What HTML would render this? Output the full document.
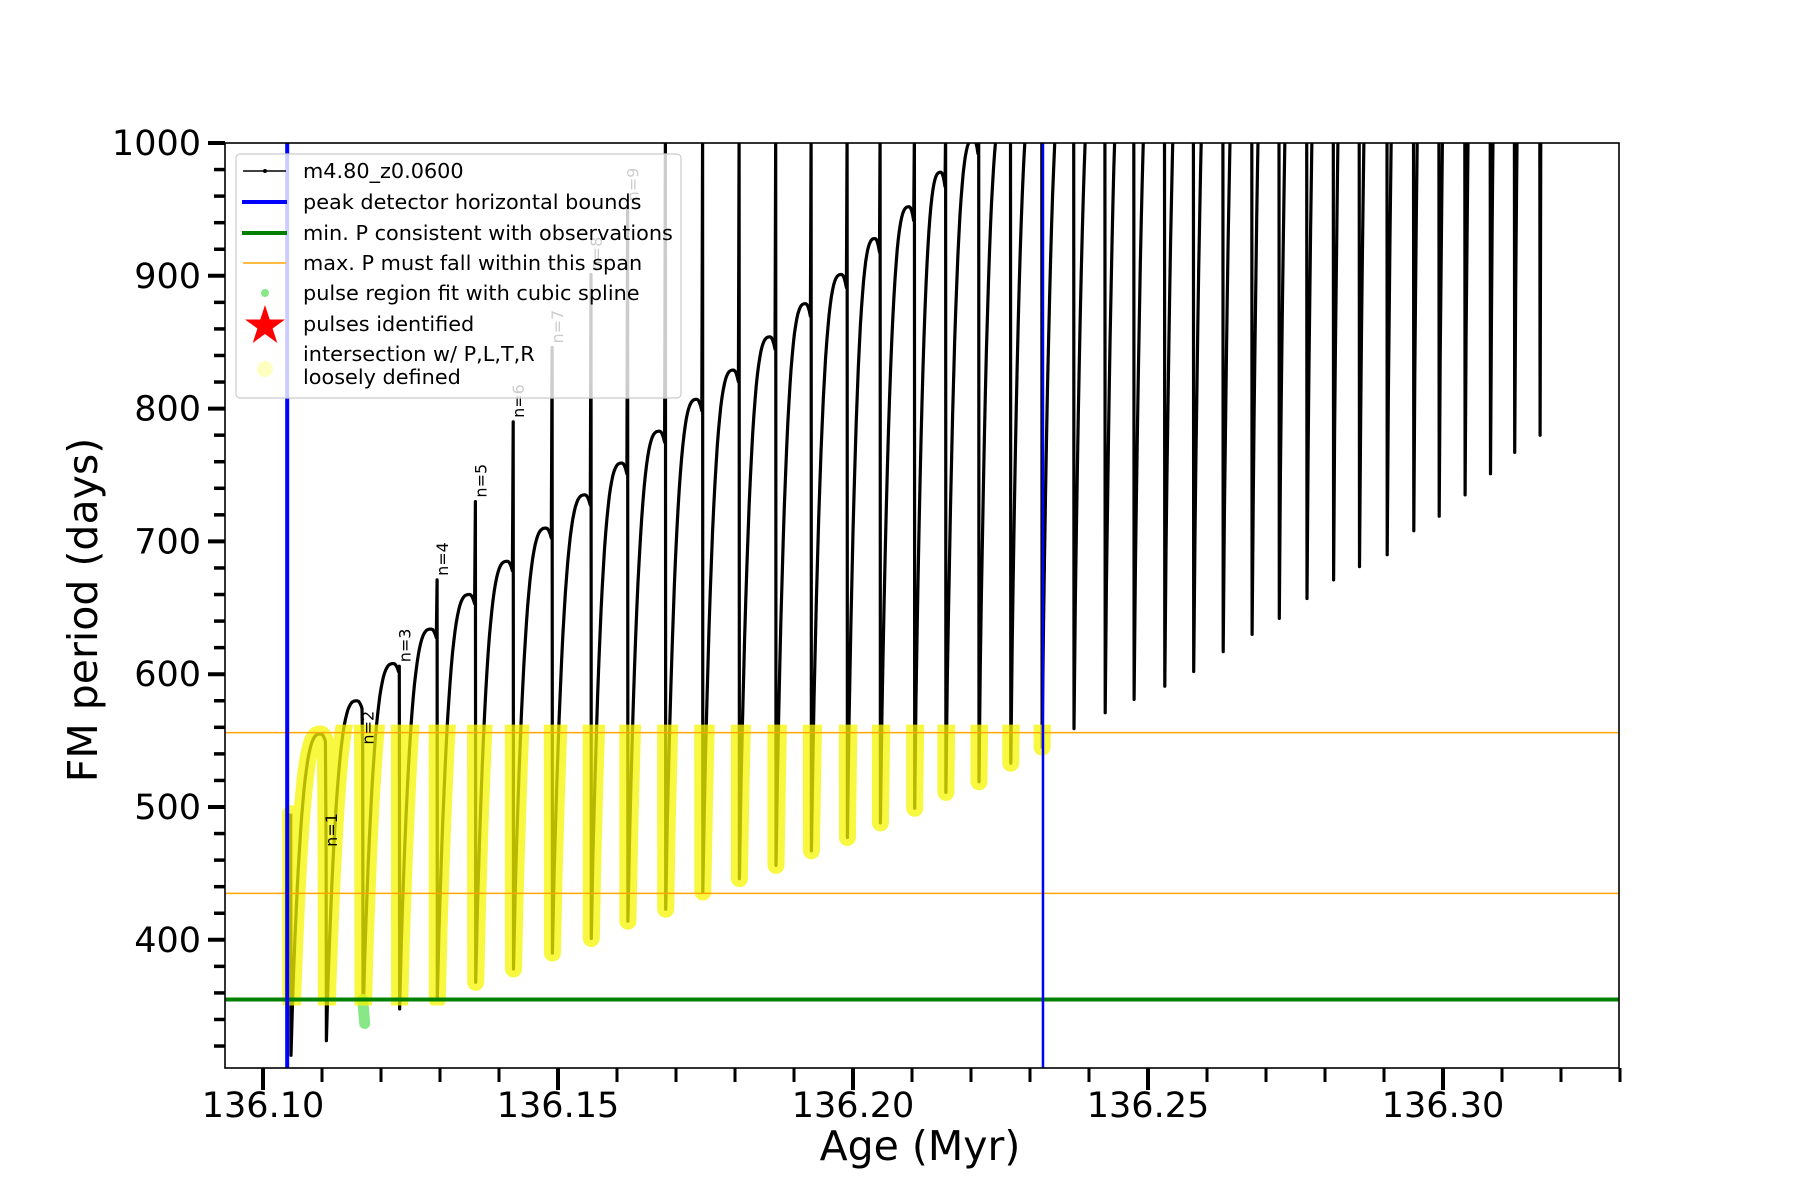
<!DOCTYPE html>
<html><head><meta charset="utf-8"><style>
html,body{margin:0;padding:0;background:#fff;}
svg{display:block;font-family:"DejaVu Sans","Liberation Sans",sans-serif;}
</style></head><body>
<svg id="chart" width="1800" height="1200" viewBox="0 0 1800 1200" xmlns="http://www.w3.org/2000/svg">
<defs><clipPath id="plotclip"><rect x="225" y="143" width="1394" height="925"/></clipPath></defs>
<rect x="0" y="0" width="1800" height="1200" fill="#fff"/>
<g id="marks" clip-path="url(#plotclip)"></g>
<g id="axes"></g>
<g id="legend"></g>
</svg>
<script>
// ---- data ----
const pulseAges = [136.1047,136.1107,136.1169,136.1231,136.1295,136.1360,136.1424,136.1490,136.1556,136.1618,
136.1682,136.1745,136.1807,136.1869,136.1929,136.1990,136.2046,136.2104,136.2157,136.2213,
136.2267,136.2320,136.2374,136.2427,136.2476,136.2528,136.2577,136.2627,136.2676,136.2722,
136.2769,136.2814,136.2858,136.2905,136.2950,136.2993,136.3037,136.3080,136.3121,136.3164];
const minPeriods = [313,324,337,348,355,368,378,390,401,414,423,436,446,456,467,477,488,499,511,519,
533,545,559,571,581,591,602,617,630,642,657,671,681,690,708,719,735,751,767,780];
const peakPeriods = [555,580,608,634,660,685,710,735,759,783,807,829,854,879,901,928,952,978,1003,1028,
1052,1076,1100,1124,1148,1172,1196,1220,1244,1268,1292,1316,1340,1364,1388,1412,1436,1460,1484];
const spikePeriods = [495,467,544,606,671,730,790,846,901,953,1010,1010,1010,1010,1010,1010,1010,1010,1010,1010,
1010,1010,1010,1010,1010,1010,1010,1010,1010,1010,1010,1010,1010,1010,1010,1010,1010,1010,1010,1010];
const pulseLabels = ["n=1","n=2","n=3","n=4","n=5","n=6","n=7","n=8","n=9","n=10"];
const peakBounds = [136.1041,136.2322];
const minPeriodObs = 355;
const maxPeriodSpan = [435,556];
const greenPulseIndex = 2;
const xTickMajor = [136.10,136.15,136.20,136.25,136.30];
const yTickMajor = [400,500,600,700,800,900,1000];

// ---- axis functions ----
const X0=225,X1=1619,Y0=143,Y1=1068;
function xs(a){return 263+(a-136.10)*5900;}
function ys(v){return 143+(1000-v)*1.328;}
const NS="http://www.w3.org/2000/svg";
function mk(tag,attrs,parent){const e=document.createElementNS(NS,tag);for(const k in attrs)e.setAttribute(k,attrs[k]);parent.appendChild(e);return e;}

const marks=document.getElementById('marks');
const axes=document.getElementById('axes');
const legend=document.getElementById('legend');

const pts=[];
for(let i=0;i<pulseAges.length;i++){
  const t=pulseAges[i];
  pts.push([t,spikePeriods[i]]);
  pts.push([t+0.00005,minPeriods[i]]);
  if(i<pulseAges.length-1){
    const dt=pulseAges[i+1]-t, m=minPeriods[i], P=peakPeriods[i];
    for(let k=1;k<=30;k++){
      const u=0.02+0.96*k/30;
      let g;
      if(u<0.85){const v=u/0.85;g=1-Math.pow(1-v,3);} else {const w=(u-0.85)/0.15;g=1-0.03*w*w;}
      pts.push([t+u*dt,m+(P-m)*g]);
    }
  } else {
    pts.push([t+0.0002,1050]);
  }
}
const d=pts.map((p,i)=>(i?'L':'M')+xs(p[0]).toFixed(1)+' '+ys(p[1]).toFixed(1)).join(' ');

const curve=mk('path',{d:d,fill:'none',stroke:'#000','stroke-width':3.2,'stroke-linejoin':'round'},marks);



const gt=pulseAges[greenPulseIndex];
const gl=mk('line',{x1:xs(gt),y1:ys(minPeriodObs),x2:xs(gt)+2,y2:ys(minPeriods[greenPulseIndex]),stroke:'#88e888','stroke-width':11,'stroke-linecap':'round'},marks);



const defs=document.querySelector('defs');
const yc=mk('clipPath',{id:'yclip'},defs);
mk('rect',{x:xs(peakBounds[0])-9,y:ys(maxPeriodSpan[1])-8,width:xs(peakBounds[1])-xs(peakBounds[0])+18,height:ys(minPeriodObs)-ys(maxPeriodSpan[1])+14},yc);
const yl=mk('path',{d:d,fill:'none',stroke:'#f5f500','stroke-opacity':0.75,'stroke-width':17,'stroke-linecap':'round','stroke-linejoin':'round','clip-path':'url(#yclip)'},marks);



const o1=mk('line',{x1:X0,x2:X1,y1:ys(maxPeriodSpan[1]),y2:ys(maxPeriodSpan[1]),stroke:'#ffa500','stroke-width':1.5},marks);


const o2=mk('line',{x1:X0,x2:X1,y1:ys(maxPeriodSpan[0]),y2:ys(maxPeriodSpan[0]),stroke:'#ffa500','stroke-width':1.5},marks);


const gline=mk('line',{x1:X0,x2:X1,y1:ys(minPeriodObs),y2:ys(minPeriodObs),stroke:'#008000','stroke-width':4},marks);


peakBounds.forEach((b,i)=>{
  const l=mk('line',{x1:xs(b),x2:xs(b),y1:Y0,y2:Y1,stroke:'#0000ff','stroke-width':i?2.5:4},marks);
  
  
});

pulseLabels.forEach((s,i)=>{
  const x=xs(pulseAges[i+1])+11, y=ys(spikePeriods[i+1])-4;
  const t=mk('text',{x:x,y:y,transform:`rotate(-90 ${x} ${y})`,'font-size':16,fill:'#000'},marks);
  t.textContent=s;
  
  
});

const fr=mk('rect',{x:X0,y:Y0,width:X1-X0,height:Y1-Y0,fill:'none',stroke:'#000','stroke-width':1.6},axes);



for(let k=0;k<=23;k++){
  const a=136.10+k*0.01, x=xs(a);
  if(x>X1+1)break;
  const major=(k%5===0);
  const tk=mk('line',{x1:x,x2:x,y1:Y1,y2:Y1+(major?22:14),stroke:'#000','stroke-width':major?4:3},axes);
  
  
}
xTickMajor.forEach(a=>{
  const t=mk('text',{x:xs(a),y:1117,'text-anchor':'middle','font-size':35,fill:'#000'},axes);
  t.textContent=a.toFixed(2);
  
  
});
for(let v=320;v<=1000;v+=20){
  const y=ys(v), major=(v%100===0);
  const tk=mk('line',{x1:X0-(major?17:11),x2:X0,y1:y,y2:y,stroke:'#000','stroke-width':major?4:3.5},axes);
  
  
}
yTickMajor.forEach(v=>{
  const t=mk('text',{x:201,y:ys(v)+12,'text-anchor':'end','font-size':35,fill:'#000'},axes);
  t.textContent=String(v);
  
  
});
const xt=mk('text',{x:920,y:1160,'text-anchor':'middle','font-size':41,fill:'#000'},axes);
xt.textContent='Age (Myr)';


const yt=mk('text',{x:97,y:610,'text-anchor':'middle','font-size':41,fill:'#000',transform:'rotate(-90 97 610)'},axes);
yt.textContent='FM period (days)';



const lb=mk('rect',{x:236,y:154,width:445,height:244,rx:4,fill:'#fff','fill-opacity':0.8,stroke:'#cccccc','stroke-width':1.2},legend);


const entries=[
 ['m4.80_z0.0600',178,'black'],['peak detector horizontal bounds',209,'blue'],['min. P consistent with observations',240,'green'],
 ['max. P must fall within this span',270,'orange'],['pulse region fit with cubic spline',300,'dot'],['pulses identified',331,'star'],
 ['intersection w/ P,L,T,R',361,'yc'],['loosely defined',384,null]];
entries.forEach(e=>{
  const t=mk('text',{x:303,y:e[1],'font-size':20.8,fill:'#000'},legend);
  t.textContent=e[0];
  
  
  const hy=e[1]-7;
  let h=null;
  if(e[2]==='black'){h=mk('line',{x1:243,x2:286,y1:hy,y2:hy,stroke:'#000','stroke-width':1.5},legend);mk('circle',{cx:265,cy:hy,r:2,fill:'#000'},legend);}
  if(e[2]==='blue')h=mk('line',{x1:242,x2:287,y1:hy,y2:hy,stroke:'#0000ff','stroke-width':4},legend);
  if(e[2]==='green')h=mk('line',{x1:242,x2:287,y1:hy,y2:hy,stroke:'#008000','stroke-width':4},legend);
  if(e[2]==='orange')h=mk('line',{x1:243,x2:286,y1:hy,y2:hy,stroke:'#ffa500','stroke-width':1.5},legend);
  if(e[2]==='dot')h=mk('circle',{cx:265,cy:hy,r:4,fill:'#88e888'},legend);
  if(e[2]==='star'){
    const c=[];for(let k=0;k<10;k++){const r=k%2?8:21,an=-Math.PI/2+k*Math.PI/5;c.push((265+r*Math.cos(an)).toFixed(1)+','+(hy+2+r*Math.sin(an)).toFixed(1));}
    h=mk('polygon',{points:c.join(' '),fill:'#ff0000'},legend);
  }
  if(e[2]==='yc')h=mk('circle',{cx:265,cy:hy+15,r:8,fill:'#ffff99','fill-opacity':0.6},legend);
  if(h){}
});
</script>
</body></html>
